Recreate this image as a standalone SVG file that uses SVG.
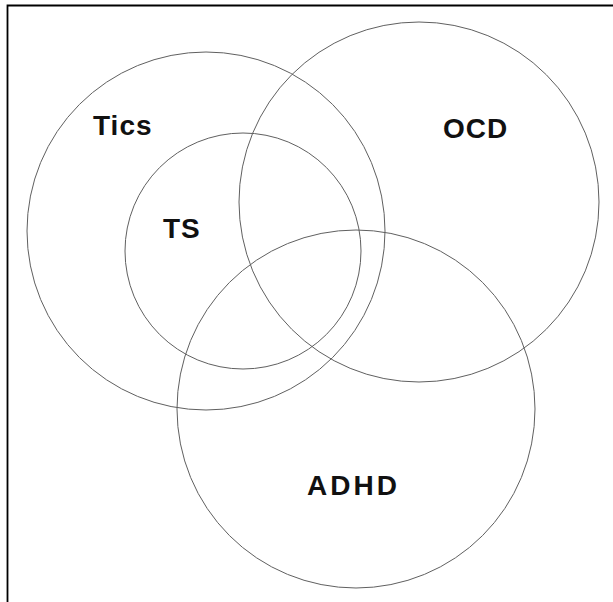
<svg xmlns="http://www.w3.org/2000/svg" width="613" height="602" viewBox="0 0 613 602">
<style>
.c{fill:none;stroke:#606060;stroke-width:1}
.t{font-family:"Liberation Sans",Arial,sans-serif;font-size:28px;font-weight:bold;fill:#111;letter-spacing:1px}
.f{fill:none;stroke:#000;stroke-width:1.8}
</style>
<rect width="613" height="602" fill="#fff"/>
<path class="f" d="M7.5,602 V5.5 H613"/>
<g id="tics"><circle class="c" cx="206" cy="231" r="179"/><text class="t" x="93" y="135">Tics</text></g>
<g id="ocd"><circle class="c" cx="419" cy="202" r="180"/><text class="t" x="443" y="138">OCD</text></g>
<g id="ts"><circle class="c" cx="243" cy="251" r="118"/><text class="t" x="163" y="238">TS</text></g>
<g id="adhd"><circle class="c" cx="356" cy="409" r="179"/><text class="t" x="307" y="495" style="letter-spacing:3px">ADHD</text></g>
<g id="connectors"></g>
</svg>
